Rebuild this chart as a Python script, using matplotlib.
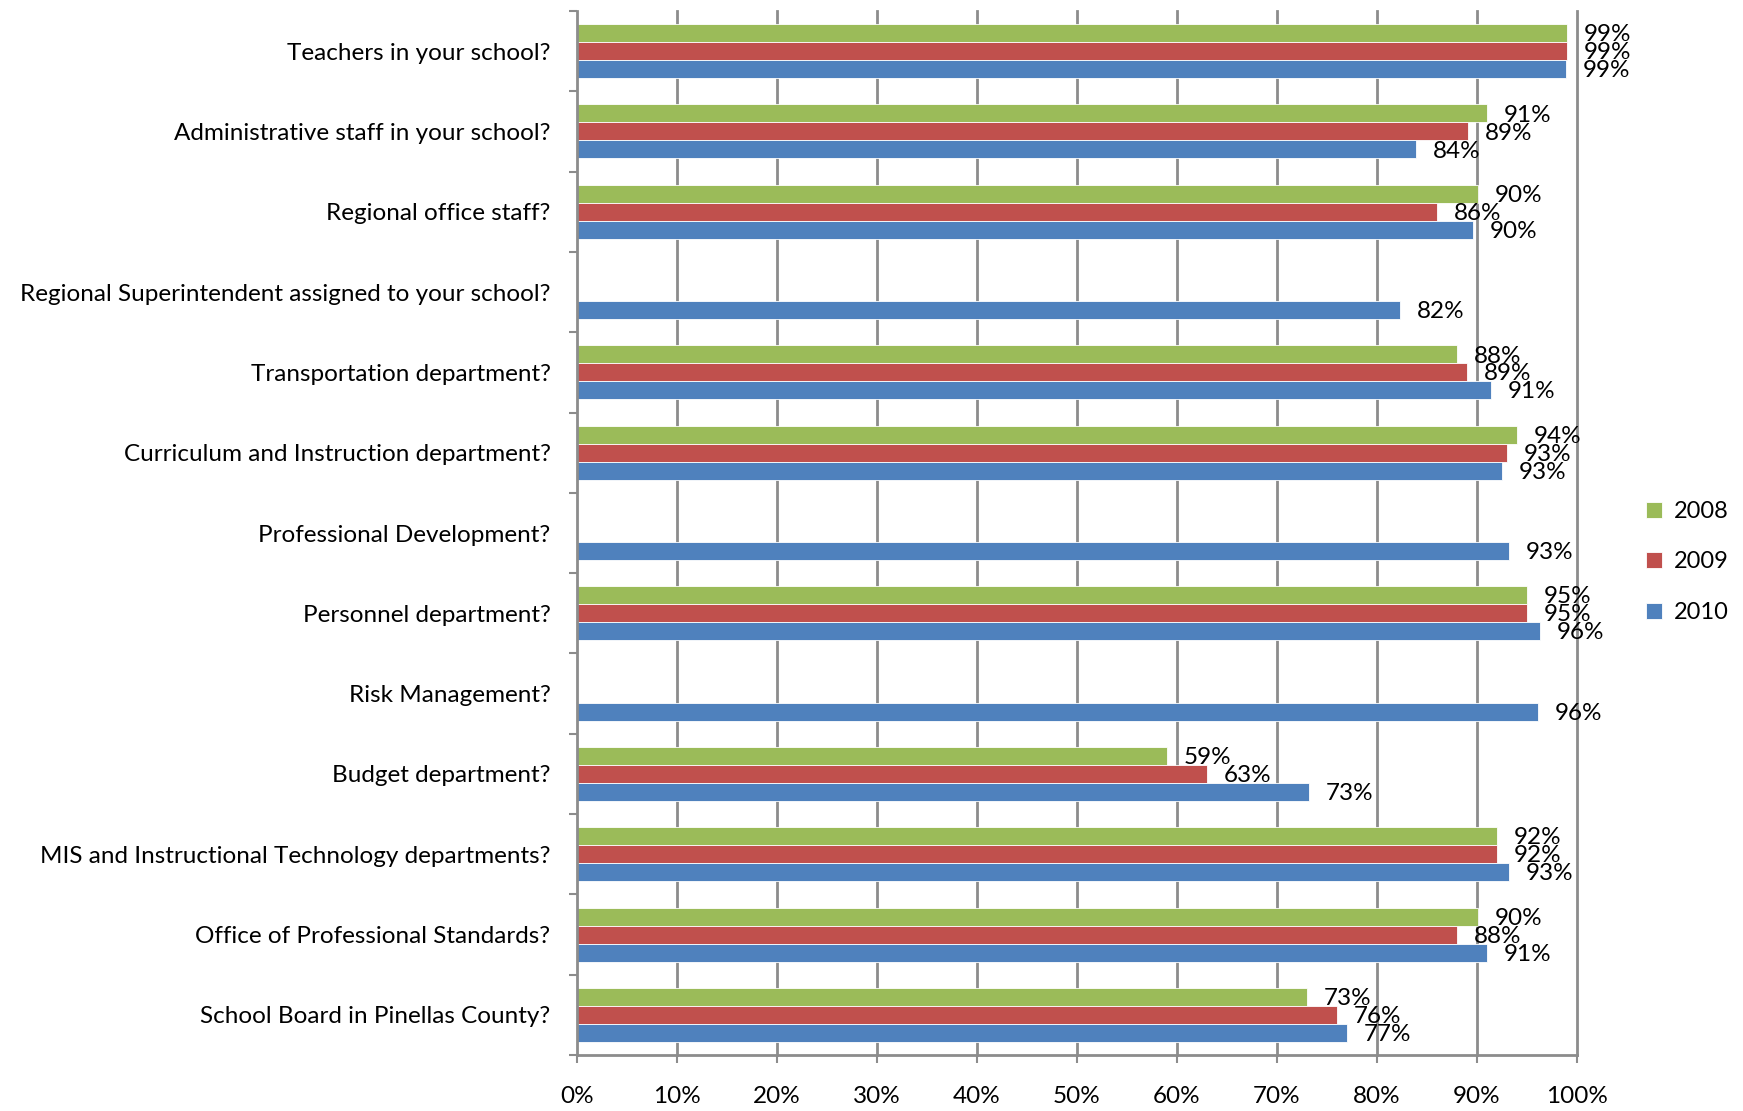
import matplotlib
matplotlib.use("Agg")
import matplotlib.pyplot as plt
import numpy as np

categories = [
    "Teachers in your school?",
    "Administrative staff in your school?",
    "Regional office staff?",
    "Regional Superintendent assigned to your school?",
    "Transportation department?",
    "Curriculum and Instruction department?",
    "Professional Development?",
    "Personnel department?",
    "Risk Management?",
    "Budget department?",
    "MIS and Instructional Technology departments?",
    "Office of Professional Standards?",
    "School Board in Pinellas County?",
]
# values in percent (None = no bar)
v2008 = [99.0, 91.0, 90.1, None, 88.0, 94.0, None, 95.0, None, 59.0, 92.0, 90.1, 73.0]
v2009 = [99.0, 89.1, 86.0, None, 89.0, 93.0, None, 95.0, None, 63.0, 92.0, 88.0, 76.0]
v2010 = [98.9, 83.9, 89.6, 82.3, 91.4, 92.5, 93.2, 96.3, 96.1, 73.2, 93.2, 91.0, 77.0]
labels2008 = ["99%", "91%", "90%", None, "88%", "94%", None, "95%", None, "59%", "92%", "90%", "73%"]
labels2009 = ["99%", "89%", "86%", None, "89%", "93%", None, "95%", None, "63%", "92%", "88%", "76%"]
labels2010 = ["99%", "84%", "90%", "82%", "91%", "93%", "93%", "96%", "96%", "73%", "93%", "91%", "77%"]
series_names = ["2008", "2009", "2010"]
colors = ["#9BBB59", "#C0504D", "#4F81BD"]
xticks = list(range(0, 101, 10))
xticklabels = [f"{t}%" for t in xticks]

plt.rcParams['font.family'] = ['Lato', 'DejaVu Sans']

fig = plt.figure(figsize=(17.43, 11.11), dpi=100)
ax = fig.add_axes([577/1743, 1 - 1055/1111, 1000/1743, (1055 - 11)/1111])

n = len(categories)
y = np.arange(n)
h = 0.224
grid_c = "#8C8C8C"
fs = 17.5

ax.set_axisbelow(True)
for xt in xticks[1:]:
    ax.axvline(xt, color=grid_c, lw=2, zorder=0, clip_on=False)

all_vals = [v2008, v2009, v2010]
all_labs = [labels2008, labels2009, labels2010]
for k, (vals, labs) in enumerate(zip(all_vals, all_labs)):
    off = (k - 1) * h
    idx = [i for i, v in enumerate(vals) if v is not None]
    ax.barh(y[idx] + off, [vals[i] for i in idx], height=h, color=colors[k],
            edgecolor="white", linewidth=0.6, zorder=2, label=series_names[k])
    for i in idx:
        ax.text(vals[i] + 1.7, y[i] + off + 0.02, labs[i], fontsize=fs,
                va="center", ha="left", color="black", zorder=3)

ax.set_xlim(0, 100)
ax.set_ylim(n - 0.5, -0.5)
ax.set_xticks(xticks)
ax.set_xticklabels(xticklabels, fontsize=fs)
ax.set_yticks(y)
ax.set_yticklabels(categories, fontsize=fs)
ax.set_yticks(np.arange(n + 1) - 0.5, minor=True)
ax.tick_params(axis="y", which="major", length=0, pad=19)
ax.tick_params(axis="y", which="minor", length=6, width=1.5, color=grid_c)
ax.tick_params(axis="x", which="major", length=6, width=1.5, color=grid_c, pad=16)

for s in ["top", "right"]:
    ax.spines[s].set_visible(False)
for s in ["left", "bottom"]:
    ax.spines[s].set_color(grid_c)
    ax.spines[s].set_linewidth(2)

handles, lbls = ax.get_legend_handles_labels()
leg = fig.legend(handles, lbls, loc="center left", bbox_to_anchor=(1637/1743, 1 - 562/1111),
                 frameon=False, fontsize=17, handlelength=0.65, handleheight=0.65,
                 labelspacing=1.25, handletextpad=0.5, borderaxespad=0)

fig.savefig("out.png", dpi=100)
